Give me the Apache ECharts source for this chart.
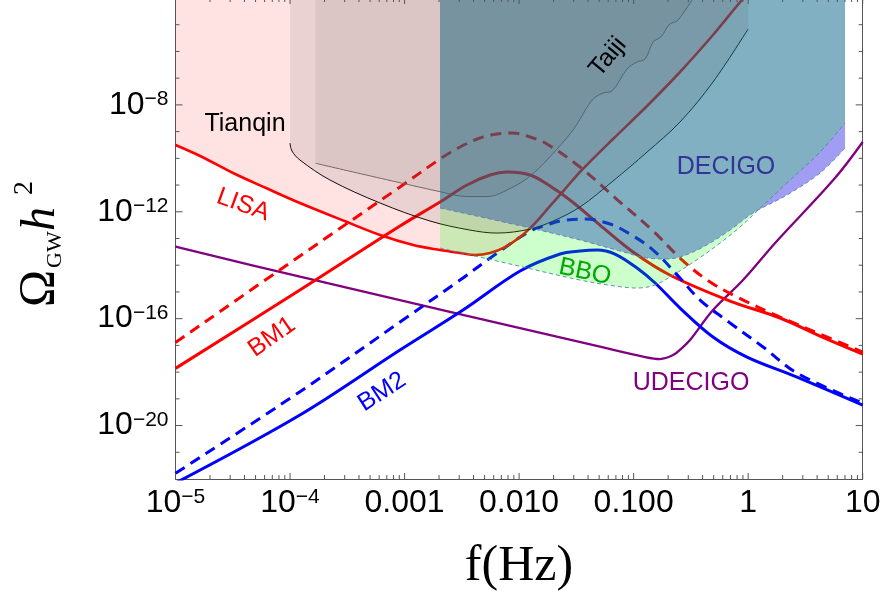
<!DOCTYPE html>
<html>
<head>
<meta charset="utf-8">
<script src="https://cdn.jsdelivr.net/npm/echarts@6/dist/echarts.min.js"></script>
<style>
  html, body { margin: 0; padding: 0; background: #fff; }
  #chart { width: 883px; height: 596px; }
</style>
</head>
<body>
<div id="chart"></div>
<script>
// Every curve is a list of [f (Hz), Omega_GW h^2] pairs.

// Benchmark spectra
const bm1Dashed = [
  [1e-5, 1.28e-17], [1.22e-4, 2.21e-14], [9.12e-4, 8.45e-12], [2.04e-3, 9.44e-11],
  [3.05e-3, 2.65e-10], [4.56e-3, 5.75e-10], [6.41e-3, 8.13e-10], [8.85e-3, 8.87e-10],
  [1.25e-2, 6.28e-10], [1.75e-2, 3.44e-10], [3.40e-2, 4.73e-11], [7.60e-2, 2.32e-12],
  [0.148, 1.91e-13], [0.254, 1.86e-14], [0.438, 2.79e-15], [0.80, 6.46e-16],
  [1.90, 1.15e-16], [4.24, 2.66e-17], [10, 5.64e-18]
];
const bm1Solid = [
  [1e-5, 1.38e-18], [1.22e-4, 1.18e-15], [9.12e-4, 2.93e-13], [2.04e-3, 2.32e-12],
  [3.51e-3, 1.00e-11], [5.57e-3, 2.38e-11], [7.85e-3, 3.08e-11], [1.25e-2, 2.38e-11],
  [1.86e-2, 9.20e-12], [2.78e-2, 2.75e-12], [5.08e-2, 3.19e-13], [9.89e-2, 3.12e-14],
  [0.207, 4.30e-15], [0.695, 4.57e-16], [1.90, 1.06e-16], [4.24, 2.24e-17], [10, 4.74e-18]
];
const bm2Dashed = [
  [1e-5, 1.63e-22], [1.22e-4, 1.85e-19], [9.12e-4, 7.48e-17], [3.05e-3, 2.79e-15],
  [5.92e-3, 2.21e-14], [1.25e-2, 1.91e-13], [1.75e-2, 3.19e-13], [2.28e-2, 4.51e-13],
  [3.76e-2, 5.36e-13], [6.22e-2, 3.48e-13], [9.29e-2, 1.47e-13], [0.148, 3.70e-14],
  [0.254, 3.32e-15], [0.380, 4.99e-16], [0.695, 6.87e-17], [1.35, 8.67e-18],
  [2.67, 9.20e-19], [10, 6.95e-20]
];
const bm2Solid = [
  [1e-5, 7.06e-23], [1.22e-4, 2.47e-20], [9.12e-4, 6.70e-18], [3.24e-3, 2.10e-16],
  [1.02e-2, 6.07e-15], [2.28e-2, 2.62e-14], [3.40e-2, 3.40e-14], [4.79e-2, 3.70e-14],
  [6.87e-2, 2.62e-14], [0.107, 7.85e-15], [0.154, 2.16e-15], [0.254, 2.50e-16],
  [0.493, 2.06e-17], [0.977, 3.66e-18], [2.67, 6.53e-19], [10, 5.85e-20]
];

// Detector sensitivity curves
const lisaCurve = [
  [1e-5, 3.15e-10], [1.64e-5, 1.22e-10], [3.18e-5, 2.82e-11], [6.17e-5, 7.74e-12],
  [1.22e-4, 2.13e-12], [3.14e-4, 4.14e-13], [6.11e-4, 1.35e-13], [1.19e-3, 5.69e-14],
  [2.04e-3, 3.70e-14], [3.05e-3, 2.86e-14], [4.12e-3, 2.41e-14], [5.57e-3, 2.86e-14],
  [7.53e-3, 4.79e-14], [1.02e-2, 1.14e-13], [1.38e-2, 3.79e-13], [1.86e-2, 1.64e-12],
  [2.52e-2, 7.11e-12], [3.40e-2, 3.08e-11], [6.61e-2, 5.28e-10], [0.131, 9.08e-9],
  [0.254, 1.70e-7], [0.493, 4.12e-6], [0.883, 8.42e-5], [1.04, 1.68e-4]
];
const tianqinCurve = [
  [1.00e-4, 3.74e-10], [1.04e-4, 1.88e-10], [1.22e-4, 8.65e-11], [2.23e-4, 1.55e-11],
  [6.11e-4, 2.13e-12], [1.67e-3, 4.51e-13], [3.72e-3, 2.07e-13], [6.41e-3, 1.60e-13],
  [1.25e-2, 2.26e-13], [1.98e-2, 4.51e-13], [3.40e-2, 1.51e-12], [6.61e-2, 1.42e-11],
  [0.131, 1.72e-10], [0.254, 2.29e-9], [0.493, 7.18e-8], [1.0, 6.92e-6]
];
const taijiCurve = [
  [1.67e-4, 6.52e-11], [2.04e-3, 5.64e-12], [3.51e-3, 3.72e-12], [5.25e-3, 3.72e-12],
  [8.85e-3, 8.45e-12], [1.25e-2, 2.18e-11], [1.75e-2, 8.65e-11], [2.96e-2, 1.15e-9],
  [4.34e-2, 1.52e-8], [5.41e-2, 2.79e-8], [6.47e-2, 3.30e-8], [8.75e-2, 2.20e-7],
  [0.107, 4.03e-7], [0.126, 5.21e-7], [0.148, 2.25e-6], [0.173, 3.47e-6],
  [0.207, 1.06e-5], [0.239, 1.38e-5], [0.275, 2.99e-5], [0.324, 8.42e-5], [0.351, 1.41e-4]
];
const decigoCurve = [
  [2.04e-3, 1.38e-12], [1.25e-2, 2.47e-13], [3.40e-2, 8.77e-14], [7.60e-2, 3.40e-14],
  [0.131, 1.86e-14], [0.188, 1.71e-14], [0.254, 2.03e-14], [0.404, 4.79e-14],
  [0.695, 2.07e-13], [1.10, 8.99e-13], [2.18, 4.24e-12], [4.24, 2.82e-11], [7.01, 2.43e-10]
];
const bboCurve = [
  [2.04e-3, 4.39e-14], [8.34e-3, 1.11e-14], [3.40e-2, 2.79e-15], [6.87e-2, 1.67e-15],
  [0.107, 1.40e-15], [0.154, 1.82e-15], [0.207, 3.61e-15], [0.344, 1.44e-14],
  [0.568, 6.76e-14], [0.849, 2.69e-13], [1.10, 7.57e-13], [2.18, 1.19e-11],
  [4.24, 1.72e-10], [7.01, 2.10e-9]
];
const udecigoCurve = [
  [1e-5, 4.92e-14], [1.22e-4, 3.72e-15], [5.08e-2, 8.91e-18], [0.126, 3.66e-18],
  [0.170, 3.08e-18], [0.221, 4.34e-18], [0.264, 7.96e-18], [0.311, 1.58e-17],
  [0.493, 2.10e-16], [0.902, 2.79e-15], [1.72, 6.78e-14], [5.73, 1.83e-11], [10, 4.08e-10]
];

// Axis ranges, ticks and tick labels
const X_MIN = 1e-5, X_MAX = 10, Y_MIN = 1e-22, Y_MAX = 1e-4;
const xDecades = [1e-5, 1e-4, 1e-3, 1e-2, 1e-1, 1, 10];
const xMinorSteps = [2, 3, 4, 5, 6, 7, 8, 9];
const xTickExps = [-5, -4, -3, -2, -1, 0, 1];
const xTickText = ['10^\u22125', '10^\u22124', '0.001', '0.010', '0.100', '1', '10'];
const yDecades = [1e-21, 1e-20, 1e-19, 1e-18, 1e-17, 1e-16, 1e-15, 1e-14, 1e-13,
                  1e-12, 1e-11, 1e-10, 1e-9, 1e-8, 1e-7, 1e-6, 1e-5];
const yLabelled = [1e-20, 1e-16, 1e-12, 1e-8];
const yTickExps = [-8, -12, -16, -20];
const yTickText = ['10^\u22128', '10^\u221212', '10^\u221216', '10^\u221220'];

const AXIS = '#555';
const SANS = "'Liberation Sans', Arial, Helvetica, sans-serif";
const SERIF = "'Liberation Serif', 'Times New Roman', serif";

function richText(t) {
  const p = t.split('^');
  return p.length > 1 ? '{b|' + p[0] + '}{s|' + p[1] + '}' : '{b|' + t + '}';
}
const tickRich = {
  b: { fontSize: 32, fontFamily: SANS, color: '#000' },
  s: { fontSize: 21, fontFamily: SANS, color: '#000', verticalAlign: 'top' }
};

function curve(data, color, width, dashed, z) {
  return {
    type: 'line', data, smooth: 0.35, symbol: 'none', showSymbol: false, silent: true, z,
    lineStyle: { color, width, type: dashed ? [11, 7] : 'solid', cap: 'butt' }
  };
}
function region(data, fill, z) {
  return {
    type: 'line', data, smooth: 0.35, symbol: 'none', showSymbol: false, silent: true, z,
    lineStyle: { width: 0, opacity: 0 },
    areaStyle: { color: fill, opacity: 1, origin: 'end' }
  };
}
function edge(data, z) {
  return {
    type: 'line', data, smooth: 0.35, symbol: 'none', showSymbol: false, silent: true, z,
    lineStyle: { color: '#5b7fae', width: 0.9, type: [4, 3] }
  };
}

// Tick marks on all four sides of the frame
const xTickData = xDecades.map(v => [v, Y_MIN, 1]);
xDecades.slice(0, -1).forEach(d => xMinorSteps.forEach(m => xTickData.push([d * m, Y_MIN, 0])));
const yTickData = yDecades.map(v => [X_MIN, v, yLabelled.indexOf(v) >= 0 ? 1 : 0]);

function tickLine(x1, y1, x2, y2) {
  return { type: 'line', shape: { x1, y1, x2, y2 }, style: { stroke: AXIS, lineWidth: 1 } };
}
function renderXTick(params, api) {
  const v = api.value(0), len = api.value(2) ? 6 : 4;
  const b = api.coord([v, Y_MIN]), t = api.coord([v, Y_MAX]);
  return { type: 'group', children: [
    tickLine(b[0], b[1], b[0], b[1] - len),
    tickLine(t[0], t[1], t[0], t[1] + len)
  ]};
}
function renderYTick(params, api) {
  const v = api.value(1), len = api.value(2) ? 7 : 4;
  const l = api.coord([X_MIN, v]), r = api.coord([X_MAX, v]);
  return { type: 'group', children: [
    tickLine(l[0], l[1], l[0] + len, l[1]),
    tickLine(r[0], r[1], r[0] - len, r[1])
  ]};
}

function tag(text, x, y, color, deg) {
  return {
    type: 'text', x, y, rotation: deg * Math.PI / 180, z: 100, silent: true,
    style: { text, fill: color, font: '25px ' + SANS,
             align: 'center', verticalAlign: 'middle',
             textAlign: 'center', textVerticalAlign: 'middle' }
  };
}
function word(text, x, y, font) {
  return { type: 'text', x, y, silent: true,
    style: { text, fill: '#000', font, align: 'left', verticalAlign: 'middle',
             textAlign: 'left', textVerticalAlign: 'middle' } };
}

const frameLine = { show: true, onZero: false, lineStyle: { color: AXIS, width: 1 } };

const option = {
  animation: false,
  backgroundColor: '#fff',
  grid: { left: 175.5, right: 20.3, top: -2, bottom: 117, containLabel: false, outerBoundsMode: 'none' },
  xAxis: [
    { type: 'log', logBase: 10, min: X_MIN, max: X_MAX, position: 'bottom',
      axisLine: frameLine, axisTick: { show: false }, splitLine: { show: false },
      axisLabel: {
        margin: 8, rich: tickRich,
        formatter: v => {
          const i = xTickExps.indexOf(Math.round(Math.log10(v)));
          return i < 0 ? '' : richText(xTickText[i]);
        }
      } },
    { type: 'log', logBase: 10, min: X_MIN, max: X_MAX, position: 'top',
      axisLine: frameLine, axisTick: { show: false }, splitLine: { show: false },
      axisLabel: { show: false } }
  ],
  yAxis: [
    { type: 'log', logBase: 10000, min: Y_MIN, max: Y_MAX, position: 'left',
      axisLine: frameLine, axisTick: { show: false }, splitLine: { show: false },
      axisLabel: {
        margin: 7, rich: tickRich,
        formatter: v => {
          const i = yTickExps.indexOf(Math.round(Math.log10(v)));
          return i < 0 ? '' : richText(yTickText[i]);
        }
      } },
    { type: 'log', logBase: 10000, min: Y_MIN, max: Y_MAX, position: 'right',
      axisLine: frameLine, axisTick: { show: false }, splitLine: { show: false },
      axisLabel: { show: false } }
  ],
  series: [
    // spectra and detector curves, painted beneath the translucent sensitivity regions
    curve(udecigoCurve, '#800080', 2.3, false, 2),
    curve(bm1Dashed, '#ff0000', 3, true, 2),
    curve(bm1Solid, '#ff0000', 3, false, 2),
    curve(bm2Dashed, '#0000ff', 3, true, 2),
    curve(bm2Solid, '#0000ff', 3, false, 2),
    curve(lisaCurve, '#ff0000', 2.6, false, 2),
    curve(tianqinCurve, '#000000', 1, false, 2),
    curve(taijiCurve, '#666666', 0.9, false, 2),
    // sensitivity regions
    region(lisaCurve, 'rgba(255,0,0,0.11)', 3),
    region(decigoCurve, 'rgba(35,28,225,0.43)', 3),
    region(bboCurve, 'rgba(0,255,0,0.2)', 3),
    region(tianqinCurve, 'rgba(90,90,90,0.12)', 3),
    region(taijiCurve, 'rgba(90,90,90,0.10)', 3),
    edge(decigoCurve, 4),
    edge(bboCurve, 4),
    { type: 'custom', silent: true, z: 6, data: xTickData, renderItem: renderXTick },
    { type: 'custom', silent: true, z: 6, data: yTickData, renderItem: renderYTick }
  ],
  graphic: [
    tag('Tianqin', 245, 124, '#000', 0),
    tag('LISA', 243, 205, '#ff0000', -20),
    tag('Taiji', 608, 57, '#000', 50),
    tag('DECIGO', 726, 167, '#333399', 0),
    tag('BBO', 585, 272, '#00a800', -12),
    tag('BM1', 272, 337, '#ff0000', 35),
    tag('BM2', 382, 392, '#0000ff', 33),
    tag('UDECIGO', 691, 383, '#800080', 0),
    {
      type: 'group', x: 55, y: 307, rotation: Math.PI / 2, silent: true,
      children: [
        word('\u03A9', 0, -15, '50px ' + SERIF),
        word('GW', 39, 0, '22px ' + SERIF),
        word('h', 76, -14, 'italic 48px ' + SERIF),
        word('2', 112, -30, '28px ' + SERIF)
      ]
    },
    { type: 'text', x: 519, y: 567, silent: true,
      style: { text: 'f(Hz)', fill: '#000', font: '50px ' + SERIF,
               align: 'center', verticalAlign: 'middle',
               textAlign: 'center', textVerticalAlign: 'middle' } }
  ]
};

const chart = echarts.init(document.getElementById('chart'), null, { renderer: 'canvas' });
chart.setOption(option);
</script>
</body>
</html>
